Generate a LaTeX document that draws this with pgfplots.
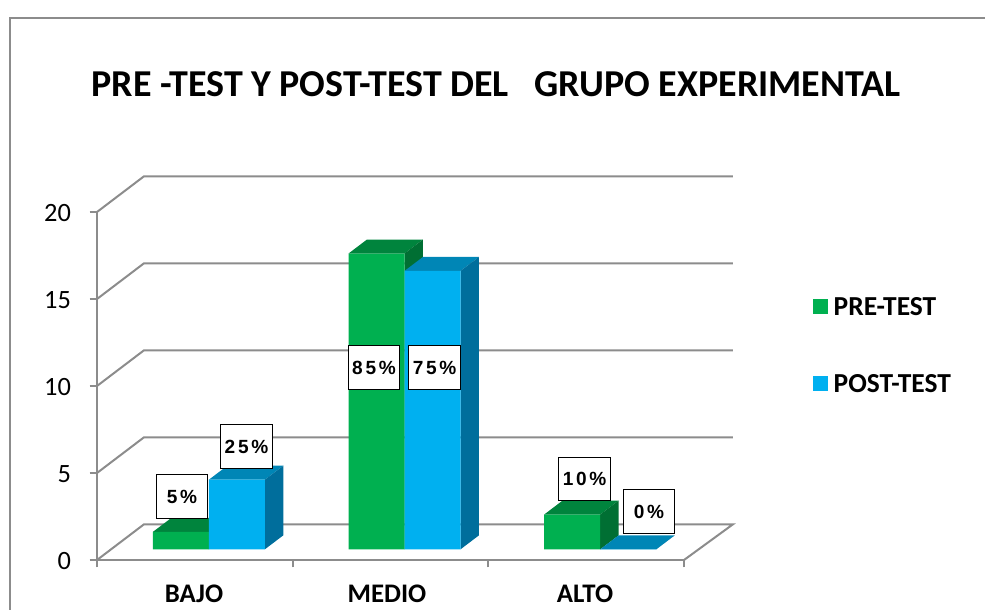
\documentclass[border=0pt]{standalone}
\usepackage{fontspec}
\setmainfont{Carlito}
\newfontfamily\labfont[LetterSpace=14]{Liberation Sans}
\usepackage{pgfplots}
\pgfplotsset{compat=1.18}

\definecolor{frame}{HTML}{8C8C8C}
\definecolor{pre}{HTML}{00B050}
\definecolor{pretop}{HTML}{00843D}
\definecolor{preside}{HTML}{006F33}
\definecolor{post}{HTML}{00B0F0}
\definecolor{posttop}{HTML}{0086B6}
\definecolor{postside}{HTML}{006E9C}

% top and side face of one bar: left edge, value, top colour, side colour
\newcommand{\barfaces}[4]{
  \pgfmathsetmacro{\xa}{#1}
  \pgfmathsetmacro{\xb}{#1+0.2862}
  \pgfmathsetmacro{\xc}{#1+0.2862+0.0945}
  \pgfmathsetmacro{\xd}{#1+0.0945}
  \pgfmathsetmacro{\yb}{#2+0.805}
  \addplot[forget plot,fill=#3,draw=none,barshift] coordinates {(\xa,#2)(\xb,#2)(\xc,\yb)(\xd,\yb)} --cycle;
  \addplot[forget plot,fill=#4,draw=none,barshift] coordinates {(\xb,0)(\xc,0.805)(\xc,\yb)(\xb,#2)} --cycle;
}

\begin{document}
\begin{tikzpicture}
\useasboundingbox (0,0) rectangle (738.75pt,457.5pt);
\draw[frame,line width=1.5pt] (7.5pt,0) -- (7.5pt,444pt) -- (738.75pt,444pt);
\node[font=\bfseries\fontsize{28.5}{32}\selectfont,anchor=center] at (372pt,394.5pt) {PRE -TEST Y POST-TEST DEL \ \ GRUPO EXPERIMENTAL};
\begin{axis}[
  at={(72.75pt,37.5pt)},anchor=south west,
  scale only axis,width=440.25pt,height=261pt,
  xmin=0,xmax=3,ymin=0,ymax=20,
  clip=false,
  axis x line=bottom,axis y line=left,
  axis line style={frame,line width=1.5pt,-},
  every tick/.style={frame,line width=1.5pt},
  tick align=outside,tick pos=lower,
  major tick length=5.5pt,
  xtick={0,1,2,3},xticklabels={},
  extra x ticks={0.496,1.482,2.494},
  extra x tick labels={BAJO,MEDIO,ALTO},
  extra x tick style={major tick length=0pt,
    tick label style={font=\bfseries\fontsize{20.1}{22}\selectfont,yshift=-15pt}},
  ytick={0,5,10,15,20},
  /pgf/number format/assume math mode=true,
  y tick label style={font=\fontsize{19.8}{22}\selectfont,xshift=-10.5pt,yshift=-0.8pt},
  legend style={at={(axis cs:3.66,15.1)},anchor=north west,draw=none,fill=none,
    row sep=42.75pt,inner sep=0pt,
    font=\bfseries\fontsize{20.6}{22}\selectfont,
    nodes={inner xsep=4pt,inner ysep=0pt}},
  legend cell align=left,
  barshift/.style={xshift=10.5pt,yshift=8pt},
  grid line/.style={frame,line width=1.5pt,forget plot},
  nodes near coords style={anchor=center,fill=white,draw=black,line width=0.8pt,
    minimum width=38.5pt,minimum height=32.5pt,inner sep=0pt,
    font=\labfont\bfseries\fontsize{14.3}{16}\selectfont,text=black},
]
% walls and floor
\addplot[grid line] coordinates {(0,0)(0.24,2.05)(3.25,2.05)(3,0)};
\addplot[grid line] coordinates {(0,5)(0.24,7.05)(3.25,7.05)};
\addplot[grid line] coordinates {(0,10)(0.24,12.05)(3.25,12.05)};
\addplot[grid line] coordinates {(0,15)(0.24,17.05)(3.25,17.05)};
\addplot[grid line] coordinates {(0,20)(0.24,22.05)(3.25,22.05)};

% PRE-TEST
\barfaces{0.2138}{1}{pretop}{preside}
\barfaces{1.2138}{17}{pretop}{preside}
\barfaces{2.2138}{2}{pretop}{preside}
\addplot[ybar,bar width=42pt,bar shift=-21pt,fill=pre,draw=none,barshift,
  legend image code/.code={\fill[pre] (0pt,-5.6pt) rectangle (11.25pt,5.6pt);}]
  coordinates {(0.5,1)(1.5,17)(2.5,2)};
\addlegendentry[yshift=7.1pt]{PRE-TEST}

% POST-TEST
\barfaces{0.5}{4}{posttop}{postside}
\barfaces{1.5}{16}{posttop}{postside}
\barfaces{2.5}{0}{posttop}{postside}
\addplot[ybar,bar width=42pt,bar shift=21pt,fill=post,draw=none,barshift,
  legend image code/.code={\fill[post] (0pt,-5.6pt) rectangle (11.25pt,5.6pt);}]
  coordinates {(0.5,4)(1.5,16)(2.5,0)};
\addlegendentry[yshift=7.1pt]{POST-TEST}

% value labels
\addplot[forget plot,draw=none,mark=none,nodes near coords,point meta=explicit symbolic]
  coordinates {
    (0.4345,3.65)[5\%]
    (0.764,6.52)[25\%]
    (1.4156,11.06)[85\%]
    (1.725,11.06)[75\%]
    (2.4915,4.65)[10\%]
    (2.821,2.79)[0\%]
  };
\end{axis}
\end{tikzpicture}
\end{document}
